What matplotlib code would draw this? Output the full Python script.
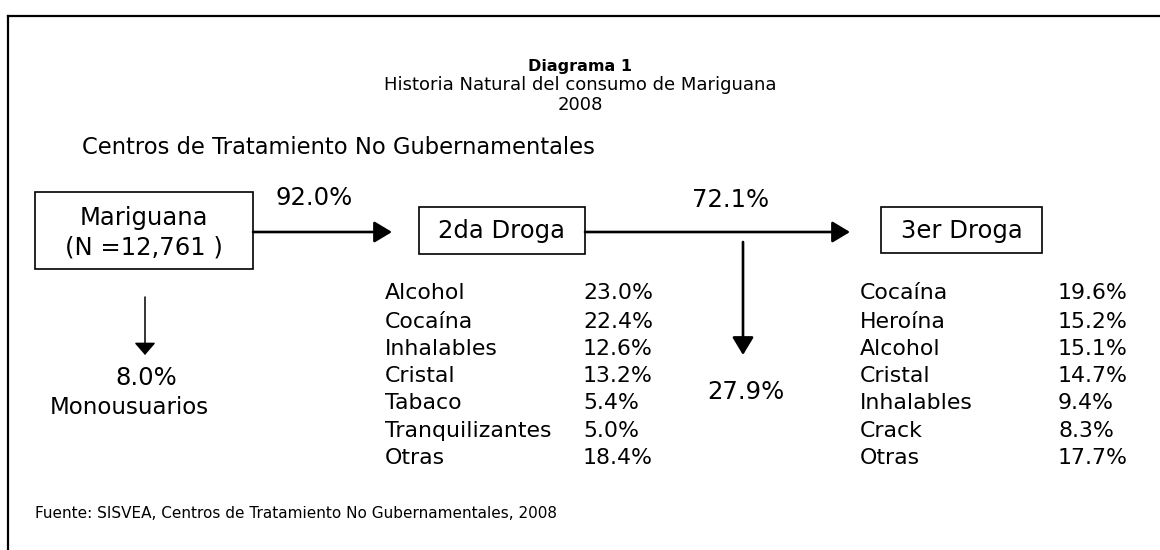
import matplotlib.pyplot as plt
from matplotlib.patches import Rectangle

plt.rcParams['font.family'] = ['DejaVu Sans']

# Data
title = 'Diagrama 1'
subtitle = 'Historia Natural del consumo de Mariguana'
year = '2008'
source_label = 'Centros de Tratamiento No Gubernamentales'
n_total = '12,761'
pct_to_second = '92.0%'
pct_mono = '8.0%'
pct_to_third = '72.1%'
pct_stop_second = '27.9%'

second_drugs = ['Alcohol', 'Cocaína', 'Inhalables', 'Cristal', 'Tabaco', 'Tranquilizantes', 'Otras']
second_pcts = [23.0, 22.4, 12.6, 13.2, 5.4, 5.0, 18.4]
third_drugs = ['Cocaína', 'Heroína', 'Alcohol', 'Cristal', 'Inhalables', 'Crack', 'Otras']
third_pcts = [19.6, 15.2, 15.1, 14.7, 9.4, 8.3, 17.7]

fuente = 'Fuente: SISVEA, Centros de Tratamiento No Gubernamentales, 2008'

fig = plt.figure(figsize=(11.6, 5.5), dpi=100)
ax = fig.add_axes([0, 0, 1, 1])
ax.set_xlim(0, 1160)
ax.set_ylim(550, 0)
ax.axis('off')

# outer frame (only top and left edges fall inside the picture)
ax.plot([8, 1160], [16, 16], color='black', lw=1.6)
ax.plot([8, 8], [16, 550], color='black', lw=1.6)

# titles
ax.text(580, 66, title, ha='center', va='center', fontsize=11.5, fontweight='bold')
ax.text(580, 85, subtitle, ha='center', va='center', fontsize=13)
ax.text(580, 105, year, ha='center', va='center', fontsize=13)
ax.text(82, 148, source_label, ha='left', va='center', fontsize=16.3)

# boxes
def box(x0, y0, x1, y1):
    ax.add_patch(Rectangle((x0, y0), x1 - x0, y1 - y0, fill=False,
                           edgecolor='black', lw=1.2))

box(35, 192, 253, 269)
ax.text(144, 218, 'Mariguana', ha='center', va='center', fontsize=17.5)
ax.text(144, 248, f'(N ={n_total} )', ha='center', va='center', fontsize=17.5)

box(419, 207, 585, 254)
ax.text(502, 231, '2da Droga', ha='center', va='center', fontsize=17.5)

box(881, 207, 1042, 253)
ax.text(962, 231, '3er Droga', ha='center', va='center', fontsize=17.5)

# arrows
def arrow(x0, y0, x1, y1, lw=1.9, hl=1.08, hw=0.65):
    ax.annotate('', xy=(x1, y1), xytext=(x0, y0),
                arrowprops=dict(arrowstyle=f'-|>,head_length={hl},head_width={hw}',
                                color='black', lw=lw, shrinkA=0, shrinkB=0))

arrow(253, 232, 392, 232)
arrow(585, 232, 850, 232)
arrow(743, 242, 743, 355)
arrow(145, 297, 145, 355, lw=1.1, hl=0.75, hw=0.65)

ax.text(314, 198, pct_to_second, ha='center', va='center', fontsize=17.5)
ax.text(731, 200, pct_to_third, ha='center', va='center', fontsize=17.5)
ax.text(746, 392, pct_stop_second, ha='center', va='center', fontsize=17.5)
ax.text(146, 378, pct_mono, ha='center', va='center', fontsize=17.5)
ax.text(129, 408, 'Monousuarios', ha='center', va='center', fontsize=16.5)

# lists
row_y = [293, 322, 349, 376, 403, 431, 458]
for y, name, p in zip(row_y, second_drugs, second_pcts):
    ax.text(385, y, name, ha='left', va='center', fontsize=15.8)
    ax.text(583, y, f'{p:.1f}%', ha='left', va='center', fontsize=15.8)
for y, name, p in zip(row_y, third_drugs, third_pcts):
    ax.text(860, y, name, ha='left', va='center', fontsize=15.8)
    ax.text(1058, y, f'{p:.1f}%', ha='left', va='center', fontsize=15.8)

ax.text(35, 513, fuente, ha='left', va='center', fontsize=11)

fig.savefig('out.png', dpi=100)
